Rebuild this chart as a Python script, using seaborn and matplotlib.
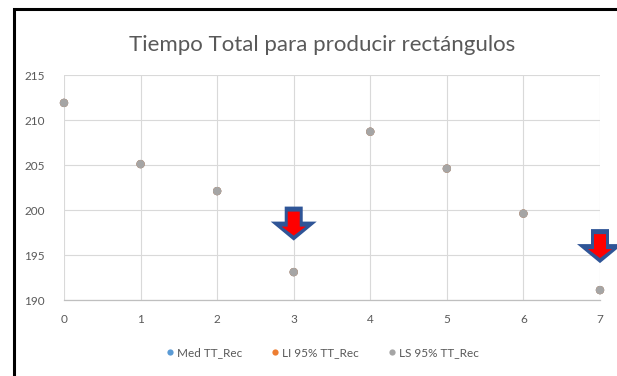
import numpy as np
import pandas as pd
import matplotlib
matplotlib.use("Agg")
import matplotlib.pyplot as plt
from matplotlib.patches import Polygon, Rectangle
import seaborn as sns

# Muestras y tiempos totales (segundos)
muestras = [0, 1, 2, 3, 4, 5, 6, 7]
med_tt = [211.9, 205.1, 202.1, 193.1, 208.7, 204.6, 199.6, 191.1]
li_tt = [211.9, 205.1, 202.1, 193.1, 208.7, 204.6, 199.6, 191.1]
ls_tt = [211.9, 205.1, 202.1, 193.1, 208.7, 204.6, 199.6, 191.1]
series = ["Med TT_Rec", "LI 95% TT_Rec", "LS 95% TT_Rec"]
colores = ["#5B9BD5", "#ED7D31", "#A5A5A5"]
y_ticks = [190, 195, 200, 205, 210, 215]
x_ticks = [0, 1, 2, 3, 4, 5, 6, 7]
titulo = "Tiempo Total para producir rectángulos"
# Muestras fuera de control señaladas con flecha
senaladas = [3, 7]

df = pd.concat([
    pd.DataFrame({"Muestra": muestras, "Tiempo": vals, "Serie": name})
    for name, vals in zip(series, [med_tt, li_tt, ls_tt])
], ignore_index=True)

sns.set_theme(style="white")
plt.rcParams["font.family"] = ["Lato", "DejaVu Sans"]

W, H = 617, 376
fig = plt.figure(figsize=(W / 100, H / 100), dpi=100)
ax = fig.add_axes([64 / W, 1 - 300 / H, (600 - 64) / W, (300 - 75) / H])

sns.scatterplot(data=df, x="Muestra", y="Tiempo", hue="Serie",
                palette=dict(zip(series, colores)), s=36, linewidth=0,
                marker="o", ax=ax, legend=False, clip_on=False, zorder=5)

ax.set_xlim(0, 7)
ax.set_ylim(190, 215)
ax.set_xticks(x_ticks)
ax.set_yticks(y_ticks)
ax.grid(True, color="#D9D9D9", linewidth=0.8)
ax.set_axisbelow(True)
for side in ["top", "right", "left"]:
    ax.spines[side].set_visible(False)
ax.spines["bottom"].set_color("#BFBFBF")
ax.spines["bottom"].set_linewidth(0.9)
ax.set_xlabel("")
ax.set_ylabel("")
ax.tick_params(axis="both", length=0, labelsize=8.5, labelcolor="#595959")
ax.tick_params(axis="x", pad=10)
ax.tick_params(axis="y", pad=14)

fig.text(322 / W, 1 - 45 / H, titulo, ha="center", va="center",
         fontsize=16, color="#595959")

# Leyenda inferior
handles = [plt.Line2D([], [], marker="o", linestyle="", markersize=4.5,
                      markerfacecolor=c, markeredgewidth=0) for c in colores]
fig.legend(handles, series, loc="center", bbox_to_anchor=(322 / W, 1 - 353 / H),
           ncol=3, frameon=False, fontsize=8.5, labelcolor="#595959",
           handletextpad=0.2, columnspacing=2.4, handlelength=0.8)

# Flechas indicadoras sobre las muestras señaladas
fig.canvas.draw()


def flecha(x, y_punta):
    px, py = ax.transData.transform((x, y_punta))
    # flecha exterior azul, interior roja
    outer = [(-9, 34), (9, 34), (9, 19), (23, 19), (0, 0), (-23, 19), (-9, 19)]
    inner = [(-6, 29), (6, 29), (6, 14), (12, 14), (0, 5), (-12, 14), (-6, 14)]
    for pts, col, z in [(outer, "#2F5597", 10), (inner, "#FF0000", 11)]:
        verts = [(px + dx, py + dy) for dx, dy in pts]
        fig.patches.append(Polygon(verts, closed=True, transform=None,
                                   facecolor=col, edgecolor="none", zorder=z))


valores = dict(zip(muestras, med_tt))
flecha(3, valores[3] + 3.5)
flecha(7, valores[7] + 3.0)

# Marco de la imagen
fig.patches.append(Rectangle((14 / W, -0.1), 1.2, 1 - 9 / H + 0.1,
                             transform=fig.transFigure, fill=False,
                             edgecolor="black", linewidth=2.2, zorder=20))

fig.savefig("out.png", dpi=100, facecolor="white")
